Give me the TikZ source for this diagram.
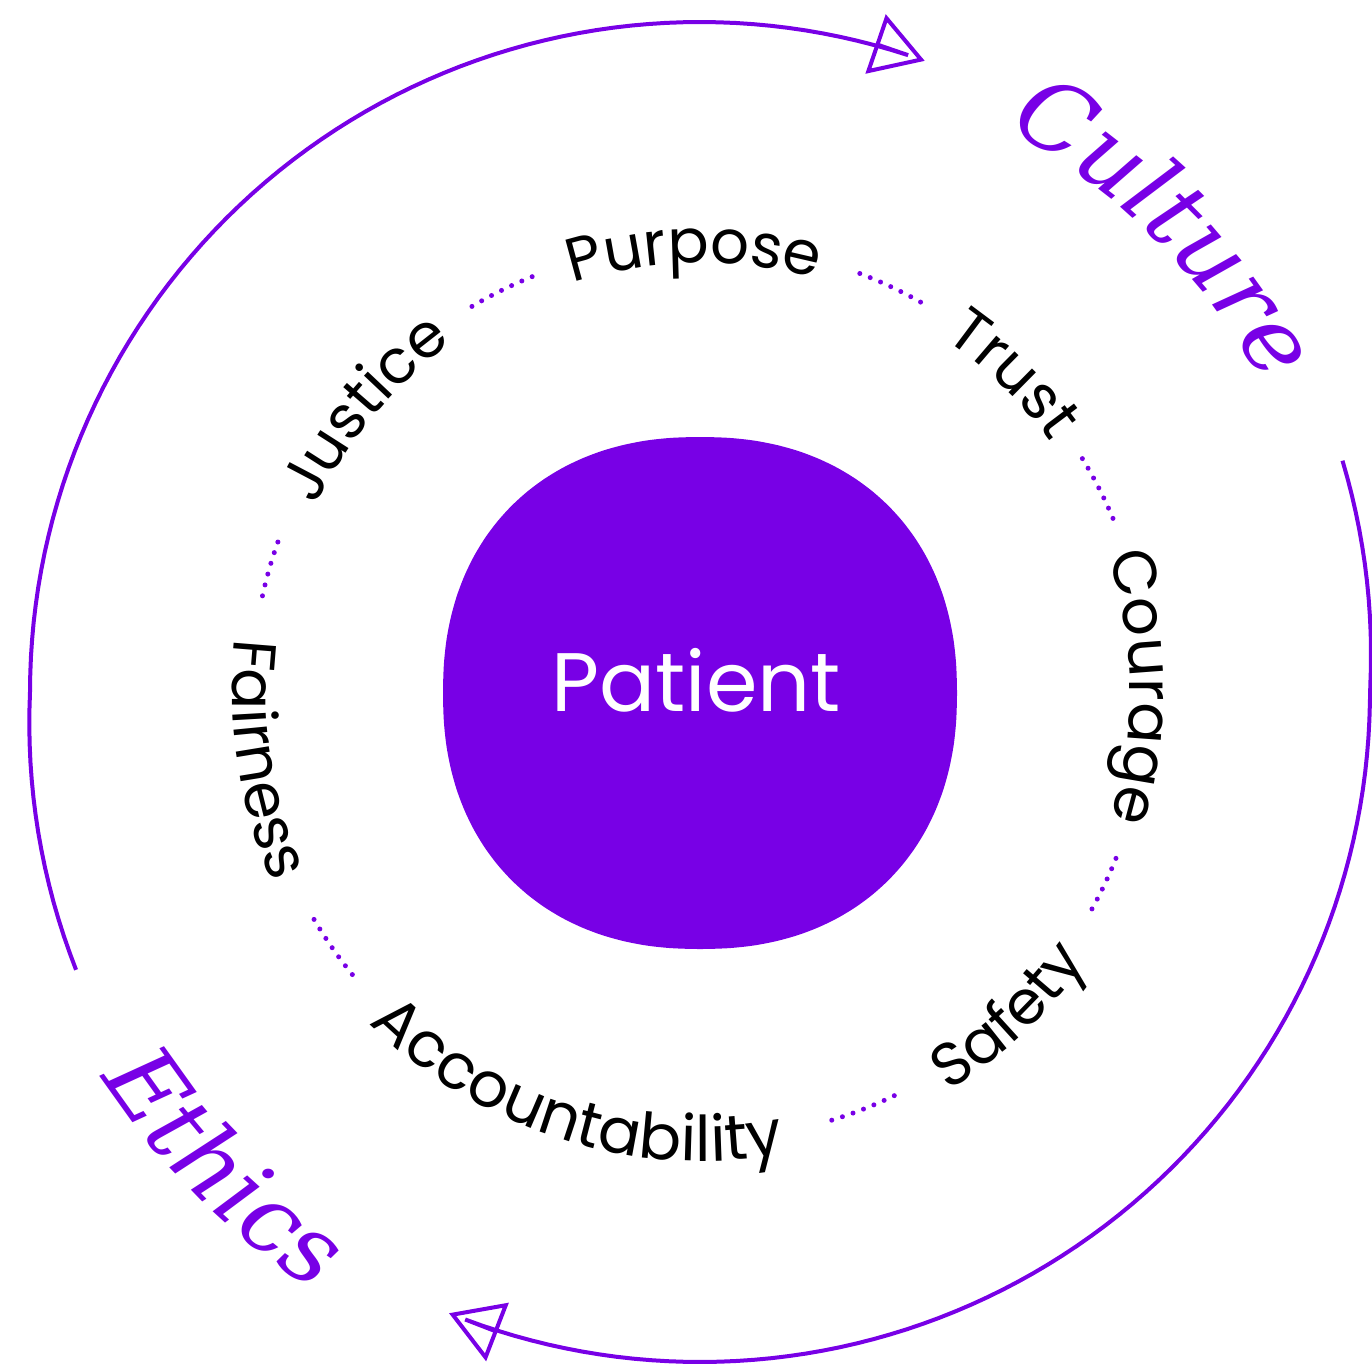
\documentclass[tikz,border=0pt]{standalone}
\usepackage{fontspec}
\usetikzlibrary{decorations.text,arrows.meta}
\newfontfamily\ringfont{Poppins}
\newfontfamily\outfont{DejaVu Serif}
\definecolor{brand}{RGB}{120,0,230}
\begin{document}
\begin{tikzpicture}[x=1pt,y=1pt,
  outerarc/.style={draw=brand, line width=4pt},
  dotarc/.style={draw=brand, line width=5pt, line cap=round, dash pattern=on 0pt off 11.2pt},
  tip/.style={-{Triangle[open,length=52pt,width=62pt]}}]
\useasboundingbox (0,0) rectangle (1372,-1368);
\coordinate (O) at (700,-692);
\coordinate (R) at (702,-691);
% outer arcs
\draw[outerarc,tip] plot[domain=204:70.4, samples=90] ({700+(670+max(0,\x-180)*13/24)*cos(\x)}, {-692+(670+max(0,\x-180)*13/24)*sin(\x)});
\draw[outerarc,tip] plot[domain=19.8:-112, samples=90] ({700+(670+max(0,\x)*13/20)*cos(\x)}, {-692+(670+max(0,\x)*13/20)*sin(\x)});
% central blob
\fill[brand] plot[smooth cycle, domain=0:355, samples=72] ({700+257*pow(abs(cos(\x)),0.9)*(cos(\x)>=0?1:-1)}, {-693+256*pow(abs(sin(\x)),0.9)*(sin(\x)>=0?1:-1)});
\node[anchor=base, text=white, font=\ringfont\fontsize{83}{90}\selectfont] (patient) at (696,-711) {Patient};
% dotted separators
\draw[dotarc] ([shift={(O)}]69.1:448) arc[start angle=69.1, end angle=59.5, radius=448];
\draw[dotarc] ([shift={(O)}]31.4:448) arc[start angle=31.4, end angle=21.7, radius=448];
\draw[dotarc] ([shift={(O)}]-21.8:448) arc[start angle=-21.8, end angle=-29.9, radius=448];
\draw[dotarc] ([shift={(O)}]-64.3:448) arc[start angle=-64.3, end angle=-73.5, radius=448];
\draw[dotarc] ([shift={(O)}]219.1:448) arc[start angle=219.1, end angle=209.5, radius=448];
\draw[dotarc] ([shift={(O)}]167.6:448) arc[start angle=167.6, end angle=159.8, radius=448];
\draw[dotarc] ([shift={(O)}]120.6:448) arc[start angle=120.6, end angle=111.2, radius=448];
% ring words, top half (clockwise)
\path[decorate, decoration={text along path, text align=center, text={|\ringfont\fontsize{61}{70}\selectfont|Purpose}}] ([shift={(R)}]121:428) arc[start angle=121, end angle=61, radius=428];
\path[decorate, decoration={text along path, text align=center, text={|\ringfont\fontsize{61}{70}\selectfont|Trust}}] ([shift={(R)}]75.5:428) arc[start angle=75.5, end angle=15.5, radius=428];
\path[decorate, decoration={text along path, text align=center, text={|\ringfont\fontsize{61}{70}\selectfont|Courage}}] ([shift={(R)}]30.5:428) arc[start angle=30.5, end angle=-29.5, radius=428];
\path[decorate, decoration={text along path, text align=center, text={|\ringfont\fontsize{61}{70}\selectfont|Justice}}] ([shift={(R)}]170:428) arc[start angle=170, end angle=110, radius=428];
% ring words, bottom half (counter-clockwise)
\path[decorate, decoration={text along path, text align=center, text={|\ringfont\fontsize{61}{70}\selectfont|Safety}}] ([shift={(R)}]-76.7:470) arc[start angle=-76.7, end angle=-16.7, radius=470];
\path[decorate, decoration={text along path, text align=center, text={|\ringfont\fontsize{63}{70}\selectfont|Accountability}}] ([shift={(R)}]212.5:470) arc[start angle=212.5, end angle=292.5, radius=470];
\path[decorate, decoration={text along path, text align=center, text={|\ringfont\fontsize{61}{70}\selectfont|Fairness}}] ([shift={(R)}]158.8:470) arc[start angle=158.8, end angle=218.8, radius=470];
% outer words
\path[decorate, decoration={text along path, text align=center, text={|\outfont\itshape\fontsize{96}{100}\selectfont\color{brand}|Culture}}] ([shift={(O)}]80:642) arc[start angle=80, end angle=10, radius=642];
\path[decorate, decoration={text along path, text align=center, text={|\outfont\itshape\fontsize{96}{100}\selectfont\color{brand}|Ethics}}] ([shift={(O)}]194:712) arc[start angle=194, end angle=256, radius=712];
\end{tikzpicture}
\end{document}
